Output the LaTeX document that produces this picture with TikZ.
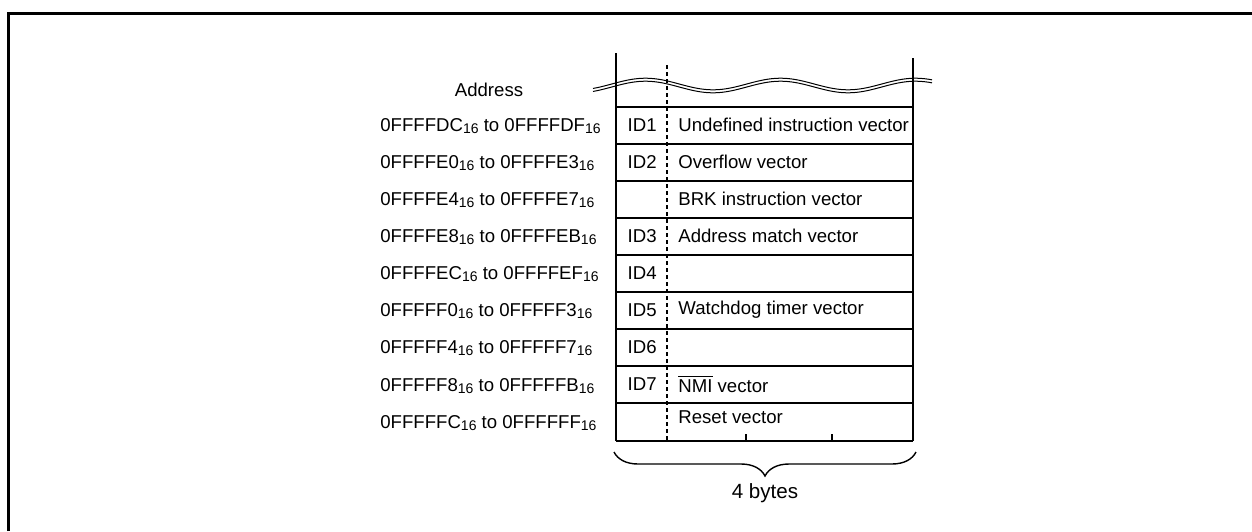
\documentclass[tikz,border=0pt]{standalone}
\usepackage{fontspec}
\setmainfont{Liberation Sans}
\usetikzlibrary{decorations.pathreplacing}
\newcommand{\hexsub}{\raisebox{-0.9pt}{\fontsize{7}{7}\selectfont 16}}
\begin{document}
\begin{tikzpicture}[x=0.5pt,y=-0.5pt,
  font=\fontsize{9.3}{11}\selectfont,
  addr/.style={inner sep=0pt, anchor=west},
  idl/.style={inner sep=0pt, anchor=east},
  desc/.style={inner sep=0pt, anchor=west},
  frameline/.style={line width=1.5pt},
  colline/.style={line width=1.1pt},
  rowline/.style={line width=0.8pt},
  waveline/.style={line width=0.5pt},
  sep/.style={line width=0.6pt, dash pattern=on 2pt off 1.5pt}]
\useasboundingbox (0,0) rectangle (1252,531);
% outer frame (open to right and bottom)
\draw[frameline] (8,531) -- (8,13) -- (1252,13);
% column
\coordinate (lt) at (616,53);
\coordinate (lb) at (616,441);
\coordinate (rt) at (913,58);
\coordinate (rb) at (913,441);
\draw[colline] (lt) -- (lb);
\draw[colline] (rt) -- (rb);
% wave break
\draw[waveline] plot[smooth, domain=593:932, samples=90] (\x, {84+5.8*cos(2.6667*(\x-713))});
\draw[waveline] plot[smooth, domain=593:932, samples=90] (\x, {87+5.8*cos(2.6667*(\x-713))});
% dashed separator
\coordinate (dt) at (667,65);
\coordinate (db) at (667,441);
\draw[sep] (dt) -- (db);
% rows
\foreach \y in {107,144,181,218,255,292,329,366,403} {
  \draw[rowline] (616,\y) -- (913,\y);
}
\draw[line width=1.3pt] (lb) -- (rb);
% ticks
\coordinate (t1) at (746,434);
\coordinate (t2) at (832,434);
\draw[rowline] (t1) -- (746,441);
\draw[rowline] (t2) -- (832,441);
% labels
\node[inner sep=0pt] (address) at (489,90) {Address};
\node[addr] (a1) at (380,126) {0FFFFDC\hexsub{} to 0FFFFDF\hexsub};
\node[addr] (a2) at (380,163) {0FFFFE0\hexsub{} to 0FFFFE3\hexsub};
\node[addr] (a3) at (380,200) {0FFFFE4\hexsub{} to 0FFFFE7\hexsub};
\node[addr] (a4) at (380,237) {0FFFFE8\hexsub{} to 0FFFFEB\hexsub};
\node[addr] (a5) at (380,274) {0FFFFEC\hexsub{} to 0FFFFEF\hexsub};
\node[addr] (a6) at (380,311) {0FFFFF0\hexsub{} to 0FFFFF3\hexsub};
\node[addr] (a7) at (380,348) {0FFFFF4\hexsub{} to 0FFFFF7\hexsub};
\node[addr] (a8) at (380,386) {0FFFFF8\hexsub{} to 0FFFFFB\hexsub};
\node[addr] (a9) at (380,423) {0FFFFFC\hexsub{} to 0FFFFFF\hexsub};
% IDs
\node[idl] (id1) at (657,125) {ID1};
\node[idl] (id2) at (657,162) {ID2};
\node[idl] (id3) at (657,236) {ID3};
\node[idl] (id4) at (657,273) {ID4};
\node[idl] (id5) at (657,310) {ID5};
\node[idl] (id6) at (657,347) {ID6};
\node[idl] (id7) at (657,384) {ID7};
% descriptions
\node[desc] (d1) at (678,125) {Undefined instruction vector};
\node[desc] (d2) at (678,162) {Overflow vector};
\node[desc] (d3) at (678,199) {BRK instruction vector};
\node[desc] (d4) at (678,236) {Address match vector};
\node[desc] (d5) at (678,310) {Watchdog timer vector};
\node[desc] (d6) at (678,384) {$\overline{\mbox{NMI}}$ vector};
\node[desc] (d7) at (678,417) {Reset vector};
% brace
\coordinate (bl) at (614,452);
\coordinate (br) at (916,452);
\draw[line width=0.7pt, decorate, decoration={brace, amplitude=12pt, mirror}] (bl) -- (br);
\node[inner sep=0pt, font=\fontsize{10.3}{12}\selectfont] (bytes) at (765,493) {4 bytes};
\end{tikzpicture}
\end{document}
